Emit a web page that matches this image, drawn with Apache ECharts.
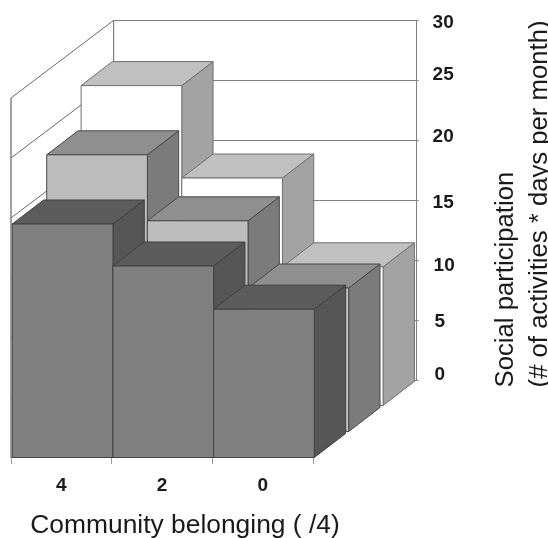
<!DOCTYPE html>
<html>
<head>
<meta charset="utf-8">
<style>html,body{margin:0;padding:0;background:#fff}#c{width:548px;height:538px}</style>
<script src="https://cdn.jsdelivr.net/npm/echarts@6/dist/echarts.min.js"></script>
</head>
<body>
<div id="c"></div>
<script>
const categories = ['4', '2', '0'];
const frontRow = [19.5, 16, 12.4];
const middleRow = [23.1, 17.6, 12];
const backRow = [26.7, 19, 11.6];
const yTicks = [0, 5, 10, 15, 20, 25, 30];

// [front face, top face, side face, edge]
const frontColors = ['#808080', '#5c5c5c', '#565656', '#404040'];
const middleColors = ['#bdbdbd', '#8f8f8f', '#7b7b7b', '#484848'];
const backColors = ['#ffffff', '#c0c0c0', '#a3a3a3', '#707070'];

// oblique projection, pixels
const ROW_DX = 34.4, ROW_DY = -26, BAR_DX = 31.3, BAR_DY = -24, INSET = 1.3;
const WALL_DX = 102.6, WALL_DY = -77.6;

// per-label nudges: the source figure's tick labels are hand-placed
const labelRich = {
  l0: {padding: [0, 0, 11, 2]}, l5: {padding: [3, 0, 0, 2]}, l10: {padding: [10, 0, 0, 1]},
  l15: {padding: [4, 0, 0, 0]}, l20: {padding: [0, 0, 8, 0]}, l25: {padding: [0, 0, 11, 0]},
  l30: {padding: [4, 0, 0, 0]}
};
Object.values(labelRich).forEach(s => {
  s.fontFamily = 'Liberation Sans'; s.fontWeight = 'bold'; s.fontSize = 19; s.color = '#1a1a1a';
});

function barSeries(name, values, row, colors) {
  return {
    type: 'custom', name, coordinateSystem: 'cartesian2d', xAxisIndex: 0, yAxisIndex: 0,
    data: values.map((v, i) => [i, v]), silent: true,
    renderItem(params, api) {
      const band = api.size([1, 0])[0];
      const top = api.coord([api.value(0), api.value(1)]);
      const base = api.coord([api.value(0), 0]);
      const ox = row * ROW_DX + INSET, oy = row * ROW_DY;
      const x0 = top[0] - band / 2 + ox, x1 = x0 + band;
      const yt = top[1] + oy, yb = base[1] + oy - 0.5;
      const edge = {stroke: colors[3], lineWidth: 1, lineJoin: 'round'};
      const poly = (pts, fill) => ({type: 'polygon', shape: {points: pts}, style: {fill, ...edge}});
      return {type: 'group', children: [
        poly([[x1, yt], [x1 + BAR_DX, yt + BAR_DY], [x1 + BAR_DX, yb + BAR_DY], [x1, yb]], colors[2]),
        poly([[x0, yt], [x0 + BAR_DX, yt + BAR_DY], [x1 + BAR_DX, yt + BAR_DY], [x1, yt]], colors[1]),
        poly([[x0, yt], [x1, yt], [x1, yb], [x0, yb]], colors[0])
      ]};
    }
  };
}

const wallSeries = {
  type: 'custom', name: 'left wall', coordinateSystem: 'cartesian2d', xAxisIndex: 0, yAxisIndex: 0,
  data: yTicks.map(v => [0, v]), silent: true,
  renderItem(params, api) {
    const band = api.size([1, 0])[0];
    const p = api.coord([0, api.value(1)]);
    const x = p[0] - band / 2;
    const children = [{type: 'line',
      shape: {x1: x, y1: p[1], x2: x + WALL_DX, y2: p[1] + WALL_DY},
      style: {stroke: '#6a6a6a', lineWidth: 1}}];
    if (api.value(1) === 0) {
      const t = api.coord([0, 30]);
      children.push(
        {type: 'line', shape: {x1: x, y1: p[1], x2: x, y2: t[1]}, style: {stroke: '#8a8a8a', lineWidth: 1.6}},
        {type: 'line', shape: {x1: x + WALL_DX, y1: p[1] + WALL_DY, x2: x + WALL_DX, y2: t[1] + WALL_DY}, style: {stroke: '#808080', lineWidth: 1.2}}
      );
    }
    return {type: 'group', children};
  }
};

const chart = echarts.init(document.getElementById('c'), null, {renderer: 'canvas'});
chart.setOption({
  animation: false,
  backgroundColor: '#fff',
  grid: [
    {left: 11, top: 98, width: 302, height: 360, outerBoundsMode: 'none'},
    {left: 113.6, top: 20.4, width: 303, height: 360, outerBoundsMode: 'none'}
  ],
  xAxis: [
    {
      type: 'category', gridIndex: 0, data: categories, boundaryGap: true,
      axisLine: {show: false},
      axisTick: {show: true, length: 6, lineStyle: {color: '#999', width: 1}},
      axisLabel: {margin: 18, fontFamily: 'Liberation Sans', fontWeight: 'bold', fontSize: 19, color: '#1a1a1a'},
      name: 'Community belonging ( /4)', nameLocation: 'middle', nameGap: 55, nameMoveOverlap: false,
      nameTextStyle: {fontFamily: 'Liberation Sans', fontSize: 26.4, color: '#1a1a1a', padding: [0, 0, 0, 46]}
    },
    {type: 'category', gridIndex: 1, data: categories, show: false}
  ],
  yAxis: [
    {type: 'value', gridIndex: 0, min: 0, max: 30, interval: 5, show: false},
    {
      type: 'value', gridIndex: 1, min: 0, max: 30, interval: 5, position: 'right',
      axisLine: {show: true, onZero: false, lineStyle: {color: '#808080', width: 1}},
      axisTick: {show: true, length: 2, lineStyle: {color: '#808080'}},
      splitLine: {show: true, lineStyle: {color: '#808080', width: 1}},
      axisLabel: {
        margin: 16, align: 'left', rich: labelRich,
        formatter: v => '{l' + v + '|' + v + '}'
      },
      name: 'Social participation\n(# of activities * days per month)',
      nameLocation: 'start', nameGap: 7, nameRotate: 90, nameMoveOverlap: false,
      nameTextStyle: {fontFamily: 'Liberation Sans', fontSize: 25.7, lineHeight: 34, color: '#1a1a1a',
        align: 'left', verticalAlign: 'top', padding: [72, 0, 0, 0]}
    }
  ],
  series: [
    wallSeries,
    barSeries('Row 3', backRow, 2, backColors),
    barSeries('Row 2', middleRow, 1, middleColors),
    barSeries('Row 1', frontRow, 0, frontColors)
  ]
});
</script>
</body>
</html>
